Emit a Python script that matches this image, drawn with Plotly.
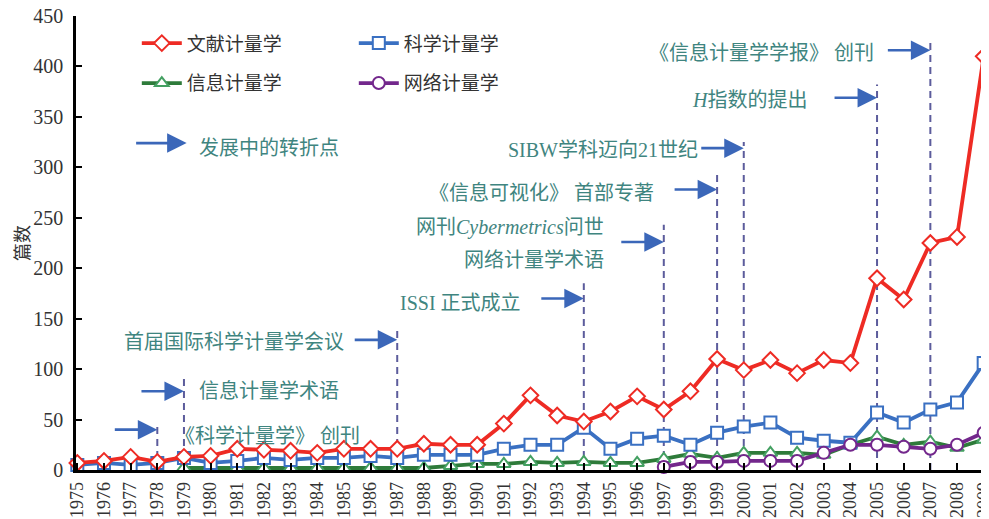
import plotly.graph_objects as go

years = list(range(1975, 2010))

bibliometrics = [7, 9, 13, 8, 13, 14, 21, 20, 19, 17, 21, 21, 21, 26, 25, 25, 46, 74, 54, 48,
                 58, 73, 60, 78, 110, 99, 109, 96, 109, 106, 190, 169, 225, 231, 410]
scientometrics = [5, 7, 5, 7, 12, 7, 9, 12, 10, 12, 12, 14, 12, 15, 15, 15, 21, 25, 25, 42,
                  21, 31, 34, 25, 37, 43, 47, 32, 29, 27, 57, 47, 60, 67, 106]
informetrics = [None, None, None, None, 2, 2, 2, 2, 2, 2, 2, 2, 2, 2, 4, 6, 6, 8, 7, 8,
                7, 7, 11, 16, 12, 17, 17, 17, 15, 25, 33, 25, 28, 22, 30]
webometrics = [None] * 22 + [3, 8, 8, 9, 9, 9, 17, 25, 25, 23, 21, 25, 37]

# turning-point events: year, dashed-line top, arrow height
event_years = [1978, 1979, 1987, 1994, 1997, 1999, 2000, 2005, 2007]
event_line_tops = [47, 92, 141, 185, 243, 297, 325, 382, 424]
event_arrow_y = [40, 78, 129, 170, 226, 278, 319, 369, 416]

text_color = "#3f8580"
arrow_color = "#3b67b9"
dash_color = "#5c5c9c"
cjk = "Liberation Serif, Noto Sans CJK SC"

fig = go.Figure()

series = [
    ("文献计量学", bibliometrics, "#ee2b24", "#ee2b24", "diamond", "legend"),
    ("科学计量学", scientometrics, "#3a70c2", "#3a70c2", "square", "legend"),
    ("信息计量学", informetrics, "#2e7b3a", "#44a062", "triangle-up", "legend2"),
    ("网络计量学", webometrics, "#73278c", "#73278c", "circle", "legend2"),
]
draw_order = [2, 1, 3, 0]
for i in draw_order:
    name, vals, lc, mc, sym, lg = series[i]
    fig.add_trace(go.Scatter(
        x=years, y=vals, name=name, mode="lines+markers",
        line=dict(color=lc, width=3.8),
        marker=dict(symbol=sym, size=12, color="white", line=dict(color=mc, width=2)),
        legend=lg, legendrank=i, cliponaxis=False, connectgaps=False,
    ))

shapes = []
for yr, top in zip(event_years, event_line_tops):
    shapes.append(dict(type="line", xref="x", yref="y", x0=yr, x1=yr, y0=0, y1=top,
                       line=dict(color=dash_color, width=2, dash="7px,5px"), layer="below"))

annotations = []
for yr, ay in zip(event_years, event_arrow_y):
    annotations.append(dict(x=yr, y=ay, xref="x", yref="y", text="", showarrow=True,
                            ax=-44, ay=0, arrowhead=2, arrowsize=1.5, arrowwidth=2.6,
                            arrowcolor=arrow_color, standoff=0))
# legend arrow for turning points
annotations.append(dict(x=1979.1, y=324, xref="x", yref="y", text="", showarrow=True,
                        ax=-52, ay=0, arrowhead=2, arrowsize=1.5, arrowwidth=2.6,
                        arrowcolor=arrow_color, standoff=0))

labels = [
    ("《科学计量学》 创刊", 1978.59, 34, "left"),
    ("信息计量学术语", 1979.5, 78, "left"),
    ("首届国际科学计量学会议", 1985.07, 127, "right"),
    ("ISSI 正式成立", 1991.7, 166, "right"),
    ("网刊<i>Cybermetrics</i>问世", 1994.85, 240, "right"),
    ("网络计量学术语", 1994.85, 208, "right"),
    ("《信息可视化》 首部专著", 1996.7, 275, "right"),
    ("SIBW学科迈向21世纪", 1998.35, 317, "right"),
    ("<i>H</i>指数的提出", 2002.45, 367, "right"),
    ("《信息计量学学报》 创刊", 2004.95, 413, "right"),
    ("发展中的转折点", 1979.5, 319, "left"),
]
for txt, x, y, anc in labels:
    annotations.append(dict(x=x, y=y, xref="x", yref="y", text=txt, showarrow=False,
                            xanchor=anc, yanchor="middle",
                            font=dict(family=cjk, size=20, color=text_color)))

legend_font = dict(family="Noto Sans CJK SC", size=19, color="#333333")
# the page body has an 8px margin, so the figure is sized to fill the rest of the window
fig.update_layout(
    width=981, height=511,
    margin=dict(l=68, r=0, t=8, b=49, autoexpand=False),
    paper_bgcolor="white", plot_bgcolor="white",
    showlegend=True,
    font=dict(family=cjk, color="#333333"),
    legend=dict(orientation="h", x=0.0666, y=0.94, xanchor="left", yanchor="middle",
                entrywidth=162, font=legend_font, bgcolor="rgba(0,0,0,0)", itemwidth=40),
    legend2=dict(orientation="h", x=0.0666, y=0.852, xanchor="left", yanchor="middle",
                 entrywidth=162, font=legend_font, bgcolor="rgba(0,0,0,0)", itemwidth=40),
    xaxis=dict(range=[1974.95, 2009.2], tickmode="array", tickvals=years,
               ticktext=[str(y) for y in years], tickangle=-90, automargin=False,
               showline=True, linecolor="black", linewidth=2.5,
               ticks="inside", ticklen=7, tickwidth=2, tickcolor="black",
               showgrid=False, zeroline=False, ticklabelstandoff=2,
               ticklabeloverflow="allow",
               tickfont=dict(family="Liberation Serif", size=18, color="#333333")),
    yaxis=dict(range=[0, 450], tickvals=list(range(0, 451, 50)), automargin=False,
               showline=True, linecolor="black", linewidth=2.5,
               ticks="inside", ticklen=6, tickwidth=2, tickcolor="black",
               showgrid=False, zeroline=False, ticklabelstandoff=6,
               ticklabeloverflow="allow",
               tickfont=dict(family="Liberation Serif", size=20, color="#333333"),
               title=dict(text="篇数", standoff=0,
                          font=dict(family="Noto Sans CJK SC", size=18, color="#333333"))),
    shapes=shapes, annotations=annotations,
)

fig.write_html("out.html")
